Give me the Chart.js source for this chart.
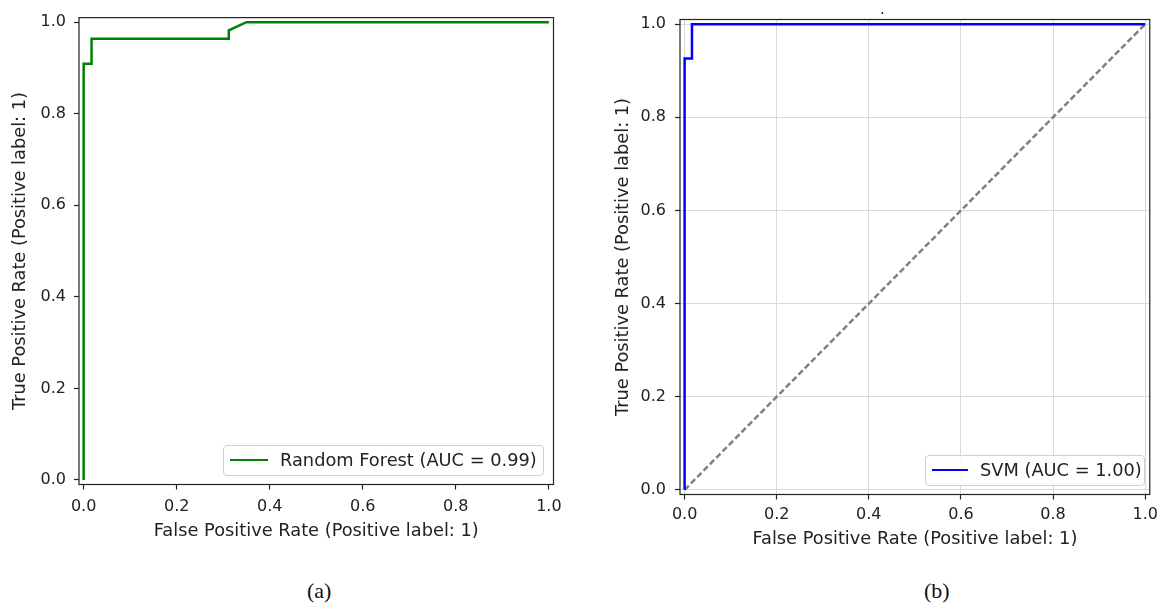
<!DOCTYPE html>
<html>
<head>
<meta charset="utf-8">
<script src="https://cdn.jsdelivr.net/npm/chart.js@4.4.1/dist/chart.umd.min.js"></script>
<style>
  body { margin: 0; width: 1164px; height: 609px; background: #fff; overflow: hidden; position: relative; font-family: "DejaVu Sans", sans-serif; }
  canvas { position: absolute; top: 0; }
  .legend { position: absolute; box-sizing: border-box; border: 1px solid #d0d0d0; border-radius: 4px; background: rgba(255,255,255,0.85); font-size: 17.8px; line-height: 20px; color: #222; }
  .legend .swatch { position: absolute; height: 2px; top: 13px; }
  .legend .txt { position: absolute; top: 4px; white-space: nowrap; }
  .caption { position: absolute; top: 578px; font-family: "Liberation Serif", serif; font-size: 22px; color: #111; }
  .dot { position: absolute; left: 880px; top: 0px; font-size: 15px; color: #222; }
</style>
</head>
<body>
<canvas id="rfChart" width="580" height="542" style="left:0px"></canvas>
<canvas id="svmChart" width="564" height="550" style="left:600px"></canvas>

<div class="legend" style="left:223px; top:445px; width:321px; height:31px">
  <div class="swatch" style="left:6px; width:38px; background:#008000"></div>
  <div class="txt" style="left:56px">Random Forest (AUC = 0.99)</div>
</div>
<div class="legend" style="left:925px; top:455px; width:220px; height:31px">
  <div class="swatch" style="left:6px; width:36px; background:#0000ff"></div>
  <div class="txt" style="left:54px">SVM (AUC = 1.00)</div>
</div>
<div class="dot">.</div>
<div class="caption" style="left:307px">(a)</div>
<div class="caption" style="left:924px">(b)</div>

<script>
// ROC points
const fprRF = [0, 0, 0.017, 0.017, 0.312, 0.312, 0.35, 1.0]
const tprRF = [0, 0.909, 0.909, 0.964, 0.964, 0.982, 1.0, 1.0]

const fprSVM = [0, 0, 0.016, 0.016, 1.0]
const tprSVM = [0, 0.926, 0.926, 1.0, 1.0]

const chanceX = [0, 1]
const chanceY = [0, 1]

const tickValues = [0, 0.2, 0.4, 0.6, 0.8, 1.0]

const xTitle = 'False Positive Rate (Positive label: 1)'
const yTitle = 'True Positive Rate (Positive label: 1)'

function toPoints(xs, ys) {
  return xs.map((x, i) => ({ x: x, y: ys[i] }))
}

// matplotlib style box around the plot
const boxPlugin = {
  id: 'box',
  afterDatasetsDraw(chart) {
    const a = chart.chartArea
    const ctx = chart.ctx
    ctx.save()
    ctx.strokeStyle = '#222'
    ctx.lineWidth = 1.2
    ctx.strokeRect(a.left, a.top, a.right - a.left, a.bottom - a.top)
    ctx.restore()
  }
}

function makeScale(axis, opts) {
  return {
    type: 'linear',
    min: -0.01,
    max: 1.01,
    afterBuildTicks: sc => { sc.ticks = tickValues.map(v => ({ value: v })) },
    afterFit: sc => {
      if (axis === 'x') sc.height = opts.size
      else sc.width = opts.size
    },
    border: { display: false },
    grid: {
      display: true,
      drawOnChartArea: opts.grid,
      color: '#dadada',
      lineWidth: 1,
      tickColor: '#222',
      tickLength: 5,
      tickWidth: 1.2
    },
    ticks: {
      color: '#222',
      padding: opts.pad,
      autoSkip: false,
      maxRotation: 0,
      font: { family: 'DejaVu Sans', size: 16 },
      callback: v => v.toFixed(1)
    },
    title: {
      display: true,
      text: axis === 'x' ? xTitle : yTitle,
      color: '#222',
      padding: 0,
      font: { family: 'DejaVu Sans', size: 17.8 }
    }
  }
}

function baseOptions(pad, xOpts, yOpts) {
  return {
    responsive: false,
    animation: false,
    events: [],
    layout: { padding: pad },
    plugins: { legend: { display: false }, tooltip: { enabled: false } },
    scales: {
      x: makeScale('x', xOpts),
      y: makeScale('y', yOpts)
    }
  }
}

new Chart(document.getElementById('rfChart'), {
  type: 'scatter',
  data: {
    datasets: [{
      label: 'Random Forest (AUC = 0.99)',
      data: toPoints(fprRF, tprRF),
      showLine: true,
      borderColor: '#008000',
      borderWidth: 2.5,
      pointRadius: 0,
      tension: 0
    }]
  },
  options: baseOptions(
    { left: 9.5, top: 11, right: 26.5, bottom: 0 },
    { size: 57.5, pad: 8, grid: false },
    { size: 69.5, pad: 8, grid: false }
  ),
  plugins: [boxPlugin]
})

new Chart(document.getElementById('svmChart'), {
  type: 'scatter',
  data: {
    datasets: [{
      label: 'SVM (AUC = 1.00)',
      data: toPoints(fprSVM, tprSVM),
      showLine: true,
      borderColor: '#0000ff',
      borderWidth: 2.5,
      pointRadius: 0,
      tension: 0
    }, {
      label: 'chance',
      data: toPoints(chanceX, chanceY),
      showLine: true,
      borderColor: '#808080',
      borderWidth: 2.5,
      borderDash: [6, 3],
      pointRadius: 0
    }]
  },
  options: baseOptions(
    { left: 12.5, top: 19.5, right: 11, bottom: 0 },
    { size: 55.5, pad: 6, grid: true },
    { size: 67.5, pad: 9, grid: true }
  ),
  plugins: [boxPlugin]
})
</script>
</body>
</html>
